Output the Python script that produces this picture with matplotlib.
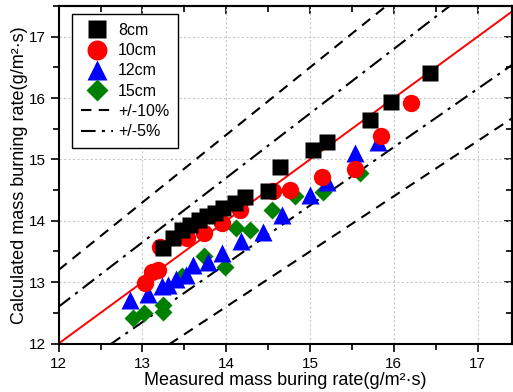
import matplotlib
matplotlib.use("Agg")
import matplotlib.pyplot as plt
import numpy as np
from matplotlib.ticker import MultipleLocator

plt.rcParams['font.family'] = ['Liberation Sans', 'DejaVu Sans']

# 8cm (black squares)
x8 = [13.25, 13.37, 13.47, 13.57, 13.67, 13.77, 13.87, 13.96, 14.10, 14.22, 14.50, 14.64, 15.04, 15.20, 15.71, 15.97, 16.43]
y8 = [13.55, 13.72, 13.85, 13.93, 14.01, 14.07, 14.12, 14.21, 14.29, 14.39, 14.48, 14.88, 15.16, 15.29, 15.65, 15.94, 16.40]
# 10cm (red circles)
x10 = [13.03, 13.11, 13.19, 13.21, 13.53, 13.73, 13.95, 14.16, 14.56, 14.76, 15.14, 15.54, 15.85, 16.20]
y10 = [12.98, 13.17, 13.20, 13.58, 13.72, 13.80, 13.96, 14.18, 14.48, 14.50, 14.72, 14.84, 15.38, 15.92]
# 12cm (blue triangles)
x12 = [12.85, 13.07, 13.23, 13.30, 13.40, 13.52, 13.60, 13.78, 13.95, 14.17, 14.44, 14.66, 15.00, 15.20, 15.54, 15.81]
y12 = [12.71, 12.80, 12.93, 12.95, 13.05, 13.12, 13.28, 13.33, 13.47, 13.67, 13.82, 14.10, 14.42, 14.64, 15.10, 15.29]
# 15cm (green diamonds)
x15 = [12.89, 13.02, 13.25, 13.25, 13.47, 13.73, 13.98, 14.12, 14.28, 14.54, 14.82, 15.16, 15.60]
y15 = [12.42, 12.49, 12.52, 12.63, 13.10, 13.42, 13.25, 13.88, 13.85, 14.18, 14.40, 14.47, 14.78]

labels = ['8cm', '10cm', '12cm', '15cm', '+/-10%', '+/-5%']
xticks = [12, 13, 14, 15, 16, 17]
yticks = [12, 13, 14, 15, 16, 17]

fig = plt.figure(figsize=(5.13, 3.92), dpi=100)
ax = fig.add_axes([0.1144, 0.1237, 0.8836, 0.861])
xmin, xmax = 12, 17.41
ymin, ymax = 12, 17.5
ax.set_xlim(xmin, xmax)
ax.set_ylim(ymin, ymax)

xl = np.array([xmin, xmax])
ax.plot(xl, xl, color='red', lw=1.4, zorder=2)
l10, = ax.plot(xl, 1.1 * xl, color='black', lw=1.5, ls=(0, (5, 3.5)), zorder=2)
ax.plot(xl, 0.9 * xl, color='black', lw=1.5, ls=(0, (5, 3.5)), zorder=2)
l5, = ax.plot(xl, 1.05 * xl, color='black', lw=1.5, ls=(0, (7, 3, 1.5, 3)), zorder=2)
ax.plot(xl, 0.95 * xl, color='black', lw=1.5, ls=(0, (7, 3, 1.5, 3)), zorder=2)

h15, = ax.plot(x15, y15, ls='none', marker='D', ms=9.5, color='green', mec='none', zorder=3)
h12, = ax.plot(x12, y12, ls='none', marker='^', ms=13, color='blue', mec='none', zorder=4)
h10, = ax.plot(x10, y10, ls='none', marker='o', ms=12.5, color='red', mec='none', zorder=5)
h8, = ax.plot(x8, y8, ls='none', marker='s', ms=11.5, color='black', mec='none', zorder=6)

ax.set_xticks(xticks)
ax.set_yticks(yticks)
ax.xaxis.set_minor_locator(MultipleLocator(0.5))
ax.yaxis.set_minor_locator(MultipleLocator(0.5))
ax.tick_params(which='both', direction='out', top=False, right=False, labelsize=11, width=1.2)
ax.tick_params(which='major', length=6)
ax.tick_params(which='minor', length=4)
sx = ax.secondary_xaxis('top')
sx.set_xticks(xticks)
sx.set_xticklabels([])
sx.xaxis.set_minor_locator(MultipleLocator(0.5))
sx.tick_params(which='both', direction='in', width=1.2)
sx.tick_params(which='major', length=6)
sx.tick_params(which='minor', length=4)
sy = ax.secondary_yaxis('right')
sy.set_yticks(yticks)
sy.set_yticklabels([])
sy.yaxis.set_minor_locator(MultipleLocator(0.5))
sy.tick_params(which='both', direction='in', width=1.2)
sy.tick_params(which='major', length=6)
sy.tick_params(which='minor', length=4)
for s in list(ax.spines.values()) + list(sx.spines.values()) + list(sy.spines.values()):
    s.set_linewidth(1.5)

ax.grid(True, which='major', color='#c8c8c8', ls=(0, (2, 2)), lw=0.8, zorder=0)

ax.set_xlabel('Measured mass buring rate(g/m²·s)', fontsize=13, labelpad=1)
ax.set_ylabel('Calculated mass burning rate(g/m²·s)', fontsize=13, labelpad=0)

leg = ax.legend([h8, h10, h12, h15, l10, l5], labels, loc='upper left',
                bbox_to_anchor=(0.029, 0.976), borderaxespad=0, fontsize=11.5,
                fancybox=False, framealpha=1, edgecolor='black', handlelength=2.0,
                handletextpad=0.35, labelspacing=0.33, borderpad=0.55, markerscale=1.15)
leg.get_frame().set_linewidth(1.0)
leg.set_zorder(10)

fig.savefig('out.png', dpi=100)
